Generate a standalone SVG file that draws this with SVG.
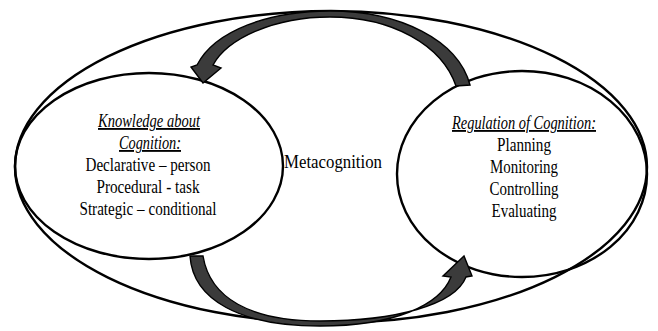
<svg xmlns="http://www.w3.org/2000/svg" width="658" height="331" viewBox="0 0 658 331">
<style>
.ell{fill:none;stroke:#000;stroke-width:2.4}
.t{font-family:"Liberation Serif","Times New Roman",serif;font-size:18.5px;fill:#000;text-anchor:middle}
.h{font-style:italic;text-decoration:underline}
.arr{fill:#3b3b3b;stroke:#000;stroke-width:1.4;stroke-linejoin:miter}
</style>
<rect width="658" height="331" fill="#fff"/>
<g id="metacognition">
<ellipse class="ell" cx="331" cy="167" rx="316" ry="156"/>
<text class="t" x="333" y="168" font-size="19.5" textLength="98" lengthAdjust="spacingAndGlyphs">Metacognition</text>
</g>
<g id="knowledge">
<ellipse class="ell" cx="149" cy="166" rx="134" ry="93"/>
<text class="t h" x="149" y="127" textLength="102" lengthAdjust="spacingAndGlyphs">Knowledge about</text>
<text class="t h" x="150" y="149" textLength="62" lengthAdjust="spacingAndGlyphs">Cognition:</text>
<text class="t" x="148" y="171" textLength="125" lengthAdjust="spacingAndGlyphs">Declarative – person</text>
<text class="t" x="148" y="193" textLength="103" lengthAdjust="spacingAndGlyphs">Procedural - task</text>
<text class="t" x="148" y="215" textLength="137" lengthAdjust="spacingAndGlyphs">Strategic – conditional</text>
</g>
<g id="regulation">
<ellipse class="ell" cx="522" cy="174" rx="125" ry="103"/>
<text class="t h" x="524" y="129" textLength="144" lengthAdjust="spacingAndGlyphs">Regulation of Cognition:</text>
<text class="t" x="524" y="151" textLength="54" lengthAdjust="spacingAndGlyphs">Planning</text>
<text class="t" x="524" y="173" textLength="68" lengthAdjust="spacingAndGlyphs">Monitoring</text>
<text class="t" x="524" y="195" textLength="69" lengthAdjust="spacingAndGlyphs">Controlling</text>
<text class="t" x="524" y="217" textLength="65" lengthAdjust="spacingAndGlyphs">Evaluating</text>
</g>
<g id="connectors">
<path class="arr" d="M470,85 C458,40 400,11 330,11 C270,11 215,30 197,65 L191,67 L203,83 L221,68 L213,65 C228,38 275,17 330,17 C392,17 442,45 456,86 Z"/>
<path class="arr" d="M190,256 C193,300 240,326 320,326 C395,326 440,305 451,277 L443,276 L464,256 L472,276 L466,277 C455,305 395,321 320,321 C250,321 210,298 203,256 Z"/>
</g>
</svg>
